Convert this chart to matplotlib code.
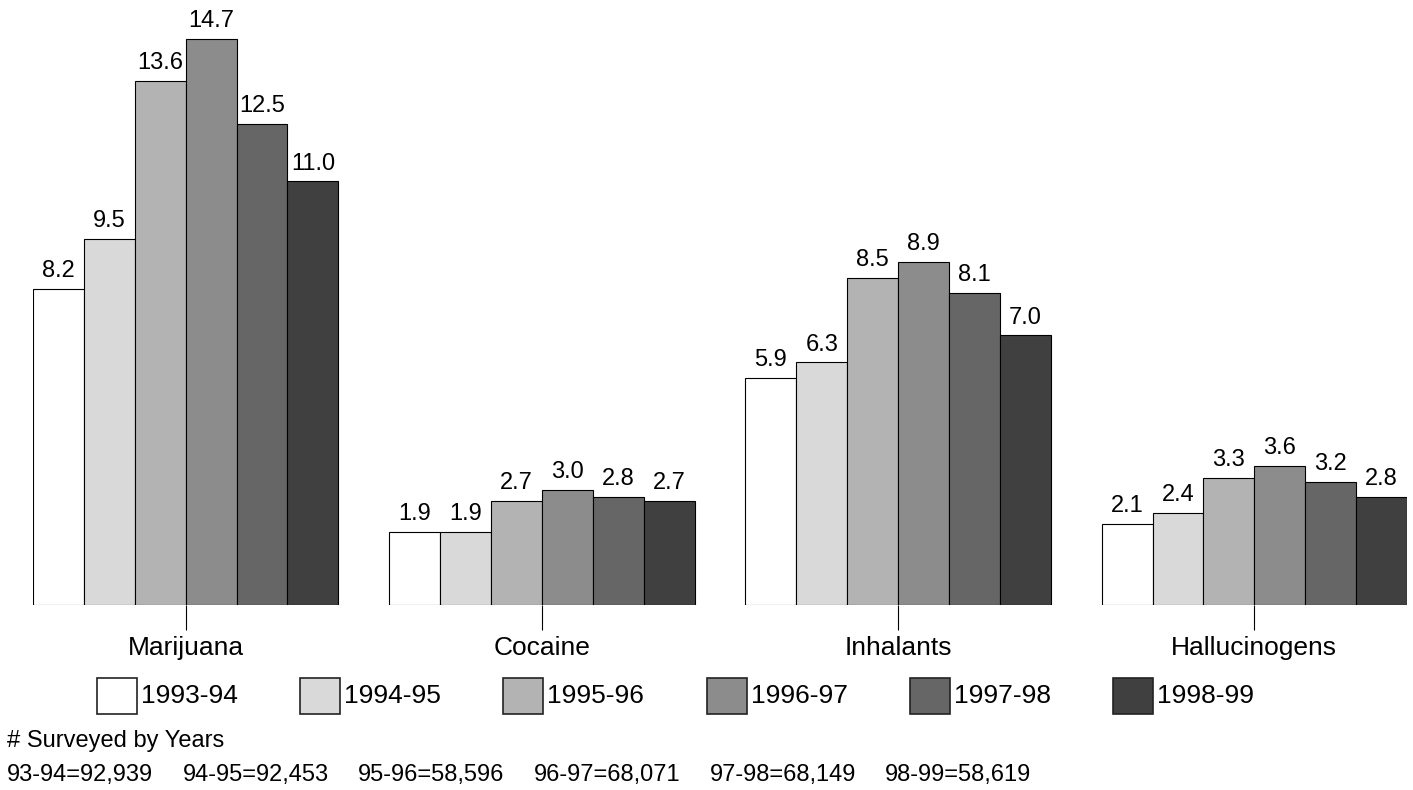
import numpy as np
import matplotlib
matplotlib.use("Agg")
from matplotlib import pyplot as plt
from matplotlib.patches import Rectangle

plt.rcParams['font.family'] = ['Liberation Sans', 'DejaVu Sans']

categories = ['Marijuana', 'Cocaine', 'Inhalants', 'Hallucinogens']
years = ['1993-94', '1994-95', '1995-96', '1996-97', '1997-98', '1998-99']
values = {
    '1993-94': [8.2, 1.9, 5.9, 2.1],
    '1994-95': [9.5, 1.9, 6.3, 2.4],
    '1995-96': [13.6, 2.7, 8.5, 3.3],
    '1996-97': [14.7, 3.0, 8.9, 3.6],
    '1997-98': [12.5, 2.8, 8.1, 3.2],
    '1998-99': [11.0, 2.7, 7.0, 2.8],
}
surveyed = ['93-94=92,939', '94-95=92,453', '95-96=58,596',
            '96-97=68,071', '97-98=68,149', '98-99=58,619']
colors = ['#ffffff', '#d9d9d9', '#b3b3b3', '#8c8c8c', '#666666', '#404040']

W, H = 1413, 790
fig = plt.figure(figsize=(W / 100, H / 100), dpi=100)
ax = fig.add_axes([33 / W, (H - 605) / H, (1407 - 33) / W, 605 / H])

centers = np.arange(len(categories)) * 7
for j, yr in enumerate(years):
    xs = centers + (j - 2.5)
    ax.bar(xs, values[yr], width=1.0, color=colors[j],
           edgecolor='black', linewidth=0.8)
    for x, v in zip(xs, values[yr]):
        ax.annotate(f'{v:.1f}', (x, v), xytext=(0, 5), textcoords='offset points',
                    ha='center', va='bottom', fontsize=17)

ax.set_xlim(-3, 24)
ax.set_ylim(0, 605 / 38.5)
ax.set_xticks(centers)
ax.set_xticklabels(categories, fontsize=19)
ax.set_yticks([])
ax.tick_params(axis='x', length=18, width=0.8, pad=4, color='black')
for s in ax.spines.values():
    s.set_visible(False)

# legend drawn by hand to match spacing
for j, yr in enumerate(years):
    x0 = 97 + j * 203.2
    fig.add_artist(Rectangle((x0 / W, (H - 714) / H), 40 / W, 36 / H,
                             transform=fig.transFigure, facecolor=colors[j],
                             edgecolor='#222222', linewidth=1.2))
    fig.text((x0 + 44) / W, (H - 696) / H, yr, fontsize=19, va='center', ha='left')

fig.text(7 / W, (H - 741) / H, '# Surveyed by Years', fontsize=17, va='center', ha='left')
for j, s in enumerate(surveyed):
    fig.text((7 + j * 175.6) / W, (H - 775) / H, s, fontsize=17, va='center', ha='left')

fig.savefig('out.png', dpi=100)
